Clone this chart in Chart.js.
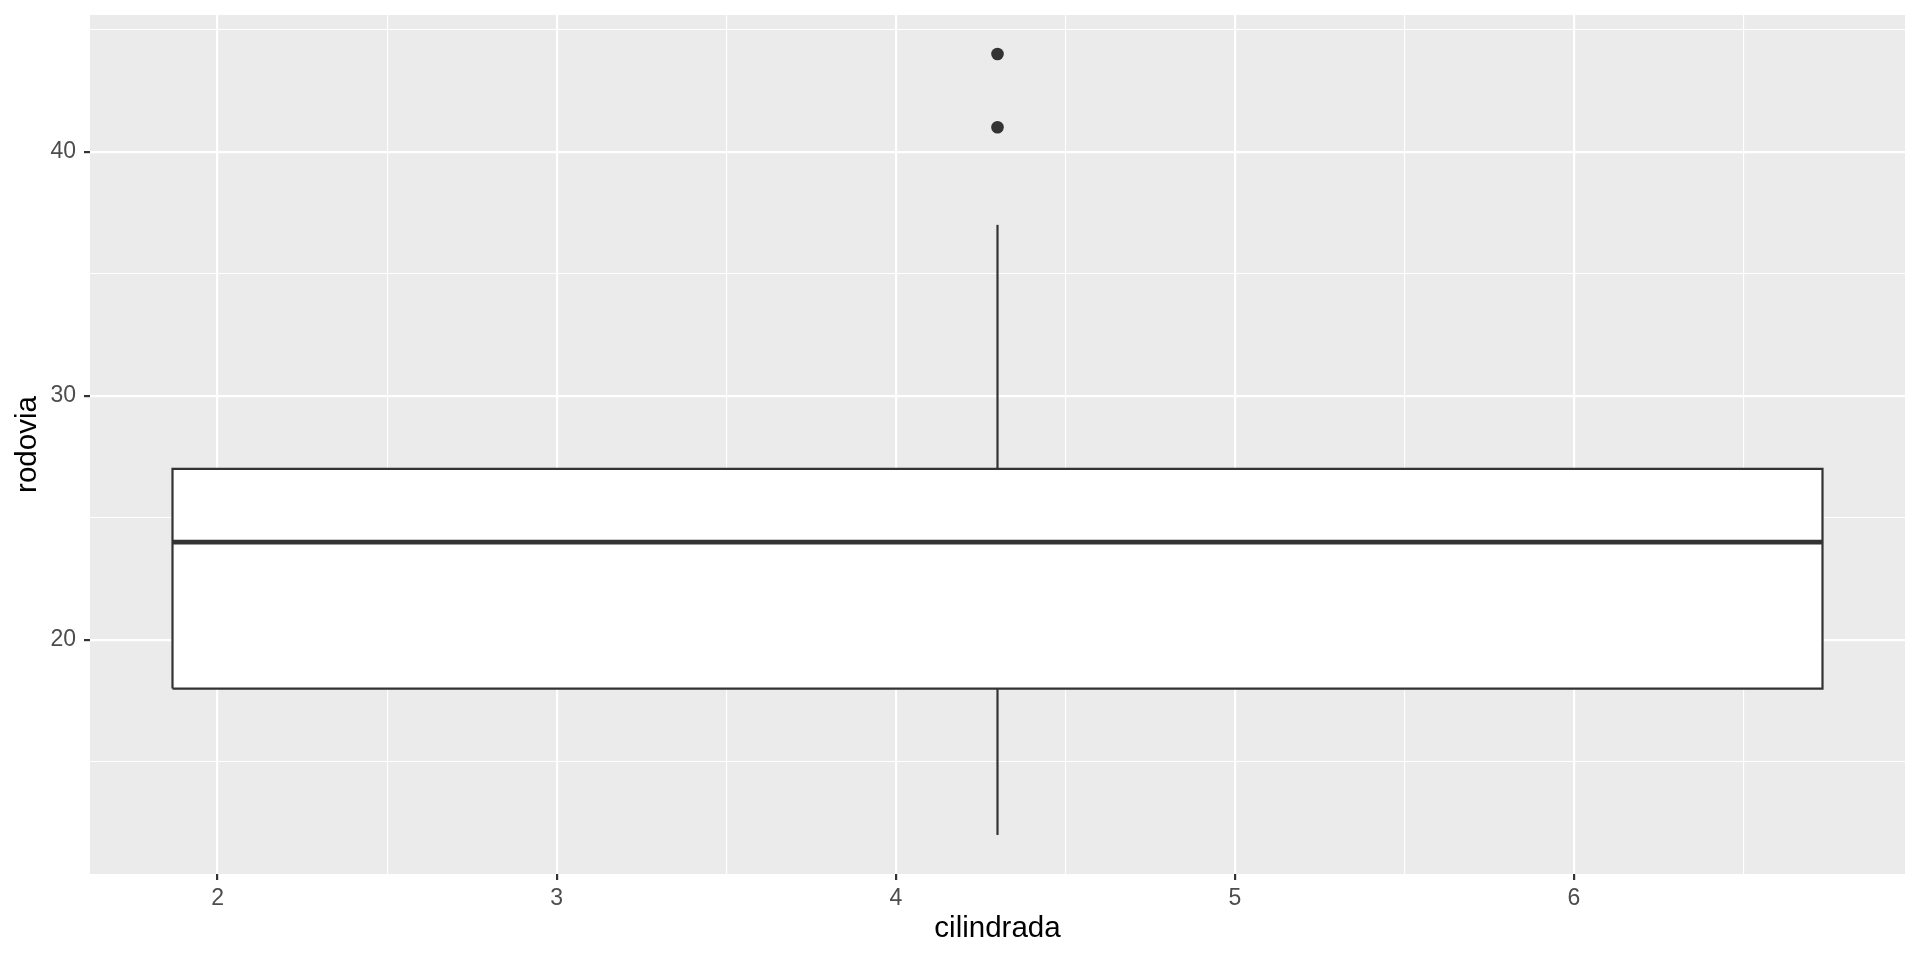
<!DOCTYPE html>
<html>
<head>
<meta charset="utf-8">
<script src="https://cdn.jsdelivr.net/npm/chart.js@4.4.1/dist/chart.umd.min.js"></script>
<style>
  html, body { margin: 0; padding: 0; background: #ffffff; }
  #wrap { width: 1920px; height: 960px; }
</style>
</head>
<body>
<div id="wrap"><canvas id="boxChart" width="1920" height="960"></canvas></div>
<script>
// boxplot of rodovia (highway mpg) vs cilindrada
const groupX = [4.3];
const boxHalfWidth = [2.433];
const whiskerLow = [12];
const quartile1 = [18];
const medianVal = [24];
const quartile3 = [27];
const whiskerHigh = [37];
const outliers = [41, 44];

const xMajor = [2, 3, 4, 5, 6];
const xMinor = [2.5, 3.5, 4.5, 5.5, 6.5];
const yMajor = [20, 30, 40];
const yMinor = [15, 25, 35, 45];

const INK = '#333333';
const tickFont = { family: 'Liberation Sans', size: 23 };
const titleFont = { family: 'Liberation Sans', size: 29.5 };

// ggplot style 5% expansion around the data
const left = groupX[0] - boxHalfWidth[0];
const right = groupX[0] + boxHalfWidth[0];
const allY = [whiskerLow[0], whiskerHigh[0], ...outliers];
const yLo = Math.min(...allY), yHi = Math.max(...allY);
const xPad = (right - left) * 0.05, yPad = (yHi - yLo) * 0.05;

const panelBackground = {
    id: 'panelBackground',
    beforeDraw(chart) {
        const { ctx, chartArea: a } = chart;
        ctx.save();
        ctx.fillStyle = '#EBEBEB';
        ctx.fillRect(a.left, a.top, a.right - a.left, a.bottom - a.top);
        ctx.restore();
    }
};

const lineSet = (data, width) => ({
    data: data,
    showLine: true,
    pointRadius: 0,
    borderColor: INK,
    borderWidth: width,
    borderJoinStyle: 'miter',
    borderCapStyle: 'butt',
    fill: false
});

const datasets = [
    // box fill (top edge filled down to bottom edge)
    {
        data: [{ x: left, y: quartile3[0] }, { x: right, y: quartile3[0] }],
        showLine: true, pointRadius: 0, borderWidth: 0,
        borderColor: 'rgba(0,0,0,0)', backgroundColor: '#ffffff', fill: '+1'
    },
    {
        data: [{ x: left, y: quartile1[0] }, { x: right, y: quartile1[0] }],
        showLine: true, pointRadius: 0, borderWidth: 0,
        borderColor: 'rgba(0,0,0,0)', fill: false
    },
    // box outline
    lineSet([
        { x: left, y: quartile1[0] }, { x: right, y: quartile1[0] },
        { x: right, y: quartile3[0] }, { x: left, y: quartile3[0] },
        { x: left, y: quartile1[0] }
    ], 2.2),
    // median
    lineSet([{ x: left, y: medianVal[0] }, { x: right, y: medianVal[0] }], 4.6),
    // whiskers
    lineSet([{ x: groupX[0], y: quartile3[0] }, { x: groupX[0], y: whiskerHigh[0] }], 2.2),
    lineSet([{ x: groupX[0], y: whiskerLow[0] }, { x: groupX[0], y: quartile1[0] }], 2.2),
    // outliers
    {
        data: outliers.map(v => ({ x: groupX[0], y: v })),
        showLine: false,
        pointRadius: 6.3,
        pointBackgroundColor: INK,
        pointBorderWidth: 0
    }
];

const isIn = (list, v) => list.some(m => Math.abs(m - v) < 1e-6);

new Chart(document.getElementById('boxChart').getContext('2d'), {
    type: 'scatter',
    data: { datasets: datasets },
    plugins: [panelBackground],
    options: {
        responsive: false,
        animation: false,
        layout: { padding: { top: 15, right: 15, left: 0, bottom: 0 } },
        plugins: {
            legend: { display: false },
            tooltip: { enabled: false },
            filler: { drawTime: 'beforeDatasetsDraw' }
        },
        scales: {
            x: {
                type: 'linear',
                min: left - xPad,
                max: right + xPad,
                afterBuildTicks: scale => {
                    scale.ticks = [...xMajor, ...xMinor].sort((a, b) => a - b).map(v => ({ value: v }));
                },
                afterFit: scale => {
                    scale.height = 86;
                    scale.paddingLeft = 0;
                    scale.paddingRight = 0;
                },
                border: { display: false },
                grid: {
                    color: '#ffffff',
                    lineWidth: c => isIn(xMajor, c.tick.value) ? 2.2 : 1.1,
                    tickLength: 6,
                    tickWidth: 2.2,
                    tickColor: c => isIn(xMajor, c.tick.value) ? INK : 'rgba(0,0,0,0)'
                },
                ticks: {
                    autoSkip: false,
                    maxRotation: 0,
                    padding: 5,
                    color: '#4D4D4D',
                    font: tickFont,
                    callback: v => isIn(xMajor, v) ? String(v) : ''
                },
                title: {
                    display: true,
                    text: 'cilindrada',
                    color: '#000000',
                    font: titleFont,
                    padding: { top: 0, bottom: 13 }
                }
            },
            y: {
                type: 'linear',
                min: yLo - yPad,
                max: yHi + yPad,
                afterBuildTicks: scale => {
                    scale.ticks = [...yMajor, ...yMinor].sort((a, b) => a - b).map(v => ({ value: v }));
                },
                afterFit: scale => {
                    scale.width = 90;
                    scale.paddingTop = 0;
                    scale.paddingBottom = 0;
                },
                border: { display: false },
                grid: {
                    color: '#ffffff',
                    lineWidth: c => isIn(yMajor, c.tick.value) ? 2.2 : 1.1,
                    tickLength: 6,
                    tickWidth: 2.2,
                    tickColor: c => isIn(yMajor, c.tick.value) ? INK : 'rgba(0,0,0,0)'
                },
                ticks: {
                    autoSkip: false,
                    padding: 8,
                    color: '#4D4D4D',
                    font: tickFont,
                    callback: v => isIn(yMajor, v) ? String(v) : ''
                },
                title: {
                    display: true,
                    text: 'rodovia',
                    color: '#000000',
                    font: titleFont,
                    padding: { top: 10, bottom: 0 }
                }
            }
        }
    }
});
</script>
</body>
</html>
